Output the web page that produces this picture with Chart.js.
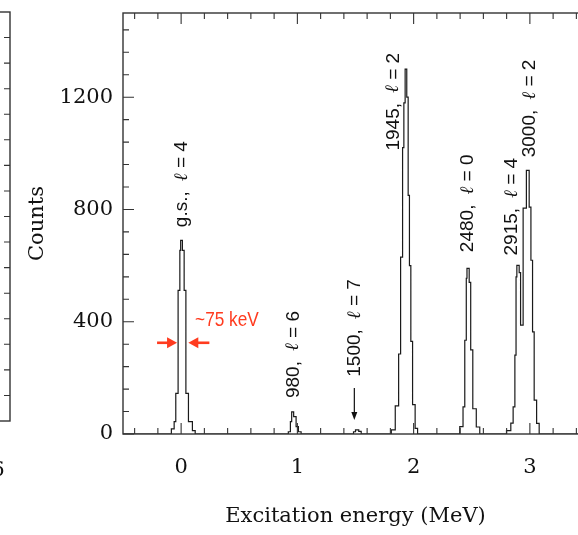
<!DOCTYPE html>
<html>
<head>
<meta charset="utf-8">
<script src="https://cdn.jsdelivr.net/npm/chart.js@4.4.1/dist/chart.umd.min.js"></script>
<style>
  html, body { margin: 0; padding: 0; background: #fff; overflow: hidden; }
  #wrap { position: relative; width: 578px; height: 535px; overflow: hidden; }
  #spectrum { position: absolute; left: 0; top: 0; }
  #prevPanel { position: absolute; left: -291px; top: 0; }
</style>
</head>
<body>
<div id="wrap">
  <canvas id="prevPanel" width="302" height="535"></canvas>
  <canvas id="spectrum" width="590" height="535"></canvas>
</div>
<script>
// spectrum as step edges: each point starts a bin that runs to the next point
const energies = [
  -0.5,
  -0.084, -0.060, -0.046, -0.026, -0.011, -0.004, 0.011, 0.026, 0.041, 0.063, 0.097, 0.121,
  0.922, 0.940, 0.951, 0.968, 0.989, 1.009, 1.032,
  1.483, 1.500, 1.528, 1.549,
  1.808, 1.842, 1.871, 1.888, 1.905, 1.916, 1.927, 1.941, 1.953, 1.964, 1.976, 1.991, 2.013, 2.034,
  2.397, 2.425, 2.440, 2.453, 2.459, 2.478, 2.491, 2.509, 2.539, 2.569,
  2.799, 2.836, 2.856, 2.871, 2.881, 2.888, 2.908, 2.920, 2.942, 2.970, 2.994, 3.009, 3.023, 3.037, 3.058, 3.080,
  3.5
];
const counts = [
  0,
  18, 44, 145, 512, 654, 690, 654, 512, 145, 44, 12, 0,
  8, 44, 79, 62, 26, 8, 0,
  8, 15, 9, 0,
  15, 100, 285, 630, 1020, 1180, 1300, 1200, 850, 600, 330, 105, 20, 0,
  26, 97, 334, 555, 590, 540, 300, 90, 25, 0,
  12, 39, 97, 281, 560, 601, 575, 388, 805, 939, 808, 619, 364, 121, 38, 0,
  0
];

const xTickValues = [0, 1, 2, 3];
const xMinorTicks = [-0.4, -0.2, 0.2, 0.4, 0.6, 0.8, 1.2, 1.4, 1.6, 1.8, 2.2, 2.4, 2.6, 2.8, 3.2, 3.4];
const yTickValues = [0, 400, 800, 1200];
const yMinorTicks = [80, 160, 240, 320, 480, 560, 640, 720, 880, 960, 1040, 1120, 1280, 1360, 1440];

const levelNames = ['g.s.', '980', '1500', '1945', '2480', '2915', '3000'];
const levelL = [4, 6, 7, 2, 0, 4, 2];

// previous panel (only its right edge is in view)
const prevXTickValues = [6];
const prevYTicks = [1, 2, 3, 4, 5, 6, 7, 8, 9, 10, 11, 12, 13, 14, 15];

// label anchors in data units: text starts at (x, y) and reads upward
const labelAnchors = [
  { x: 0.008, y: 737 }, { x: 0.965, y: 128 }, { x: 1.496, y: 204 }, { x: 1.825, y: 1010 },
  { x: 2.47, y: 648 }, { x: 2.844, y: 636 }, { x: 3.0, y: 986 }
];

const serif = 'DejaVu Serif';
const axisColor = '#333';
const noPad = s => { s.paddingTop = 0; s.paddingBottom = 0; s.paddingLeft = 0; s.paddingRight = 0; };

const frameTicks = {
  id: 'frameTicks',
  afterDatasetsDraw(chart) {
    const { ctx, chartArea: a, scales: { x, y } } = chart;
    ctx.save();
    ctx.strokeStyle = axisColor;
    ctx.lineWidth = 1.4;
    ctx.strokeRect(a.left, a.top, a.right - a.left, a.bottom - a.top);
    ctx.lineWidth = 1.1;
    ctx.beginPath();
    const xt = (v, len) => {
      const p = x.getPixelForValue(v);
      ctx.moveTo(p, a.bottom); ctx.lineTo(p, a.bottom - len);
      ctx.moveTo(p, a.top); ctx.lineTo(p, a.top + len);
    };
    const yt = (v, len) => {
      const p = y.getPixelForValue(v);
      ctx.moveTo(a.left, p); ctx.lineTo(a.left + len, p);
    };
    xTickValues.forEach(v => xt(v, 11));
    xMinorTicks.forEach(v => xt(v, 6));
    yTickValues.forEach(v => yt(v, 11));
    yMinorTicks.forEach(v => yt(v, 6));
    ctx.stroke();
    ctx.restore();
  }
};

const peakNotes = {
  id: 'peakNotes',
  afterDatasetsDraw(chart) {
    const { ctx, scales: { x, y } } = chart;
    ctx.save();
    ctx.fillStyle = '#111';
    levelNames.forEach((name, i) => {
      const px = x.getPixelForValue(labelAnchors[i].x);
      const py = y.getPixelForValue(labelAnchors[i].y);
      ctx.save();
      ctx.translate(px, py);
      ctx.rotate(-Math.PI / 2);
      ctx.textBaseline = 'middle';
      ctx.textAlign = 'left';
      let cx = 0;
      ctx.font = '19px "Liberation Sans"';
      ctx.fillText(name + ',', cx, 0);
      cx += ctx.measureText(name + ',').width + 10;
      ctx.font = 'italic 19px "DejaVu Serif"';
      ctx.fillText('ℓ', cx, 0);
      cx += ctx.measureText('ℓ').width;
      ctx.font = '19px "Liberation Sans"';
      ctx.fillText(' = ' + levelL[i], cx, 0);
      ctx.restore();
    });

    // arrow pointing at the weak 1500 state
    const ax = x.getPixelForValue(1.49);
    const ay0 = y.getPixelForValue(164), ay1 = y.getPixelForValue(50);
    ctx.strokeStyle = '#111';
    ctx.lineWidth = 1.2;
    ctx.beginPath(); ctx.moveTo(ax, ay0); ctx.lineTo(ax, ay1 - 5); ctx.stroke();
    ctx.beginPath(); ctx.moveTo(ax, ay1); ctx.lineTo(ax - 3, ay1 - 8); ctx.lineTo(ax + 3, ay1 - 8); ctx.closePath(); ctx.fill();

    // resolution marker
    const red = '#ff3b1f';
    ctx.fillStyle = red;
    ctx.strokeStyle = red;
    const my = y.getPixelForValue(325);
    const arrow = (from, to) => {
      const x0 = x.getPixelForValue(from), x1 = x.getPixelForValue(to);
      const dir = Math.sign(x1 - x0);
      ctx.lineWidth = 2.6;
      ctx.beginPath(); ctx.moveTo(x0, my); ctx.lineTo(x1 - dir * 8, my); ctx.stroke();
      ctx.beginPath(); ctx.moveTo(x1, my); ctx.lineTo(x1 - dir * 10, my - 5.5); ctx.lineTo(x1 - dir * 10, my + 5.5); ctx.closePath(); ctx.fill();
    };
    arrow(-0.207, -0.035);
    arrow(0.243, 0.062);
    ctx.save();
    ctx.translate(x.getPixelForValue(0.12), y.getPixelForValue(406));
    ctx.scale(0.82, 1);
    ctx.font = '21px "Liberation Sans"';
    ctx.textBaseline = 'middle';
    ctx.textAlign = 'left';
    ctx.fillText('~75 keV', 0, 0);
    ctx.restore();
    ctx.restore();
  }
};

new Chart(document.getElementById('spectrum'), {
  type: 'line',
  data: {
    datasets: [{
      data: energies.map((e, i) => ({ x: e, y: counts[i] })),
      stepped: 'before',
      borderColor: '#1a1a1a',
      borderWidth: 1.2,
      pointRadius: 0,
      fill: false
    }]
  },
  options: {
    responsive: false,
    animation: false,
    events: [],
    layout: { padding: { top: 13, right: 2, left: 0, bottom: 0 } },
    plugins: { legend: { display: false }, tooltip: { enabled: false } },
    scales: {
      x: {
        type: 'linear', min: -0.5, max: 3.5,
        afterBuildTicks: s => { s.ticks = xTickValues.map(v => ({ value: v })); },
        afterFit: s => { s.height = 101; noPad(s); },
        grid: { display: false, drawTicks: false },
        border: { display: false },
        ticks: { font: { family: serif, size: 21 }, color: '#111', padding: 21, maxRotation: 0, autoSkip: false,
          callback: v => String(v) },
        title: { display: true, text: 'Excitation energy (MeV)', font: { family: serif, size: 21 }, color: '#111',
          padding: { top: 0, bottom: 6 } }
      },
      y: {
        min: 0, max: 1500,
        afterBuildTicks: s => { s.ticks = yTickValues.map(v => ({ value: v })); },
        afterFit: s => { s.width = 123; noPad(s); },
        grid: { display: false, drawTicks: false },
        border: { display: false },
        ticks: { font: { family: serif, size: 21 }, color: '#111', padding: 10, callback: v => String(v) },
        title: { display: true, text: 'Counts', font: { family: serif, size: 21 }, color: '#111',
          padding: { top: 25, bottom: 0 } }
      }
    }
  },
  plugins: [frameTicks, peakNotes]
});

const prevFrame = {
  id: 'prevFrame',
  afterDraw(chart) {
    const { ctx, chartArea: a, scales: { y } } = chart;
    ctx.save();
    ctx.strokeStyle = axisColor;
    ctx.lineWidth = 1.4;
    ctx.strokeRect(a.left, a.top, a.right - a.left, a.bottom - a.top);
    ctx.lineWidth = 1.1;
    ctx.beginPath();
    prevYTicks.forEach(v => {
      const p = y.getPixelForValue(v);
      ctx.moveTo(a.right, p); ctx.lineTo(a.right - 6, p);
    });
    ctx.stroke();
    ctx.restore();
  }
};

new Chart(document.getElementById('prevPanel'), {
  type: 'line',
  data: { datasets: [{ data: [] }] },
  options: {
    responsive: false,
    animation: false,
    events: [],
    layout: { padding: { top: 12, right: 1, left: 0, bottom: 0 } },
    plugins: { legend: { display: false }, tooltip: { enabled: false } },
    scales: {
      x: {
        type: 'linear', min: 0, max: 6.25,
        afterBuildTicks: s => { s.ticks = prevXTickValues.map(v => ({ value: v })); },
        afterFit: s => { s.height = 114; noPad(s); },
        grid: { display: false, drawTicks: false },
        border: { display: false },
        ticks: { font: { family: serif, size: 21 }, color: '#111', padding: 37, maxRotation: 0, autoSkip: false }
      },
      y: { display: false, min: 0, max: 16 }
    }
  },
  plugins: [prevFrame]
});
</script>
</body>
</html>
